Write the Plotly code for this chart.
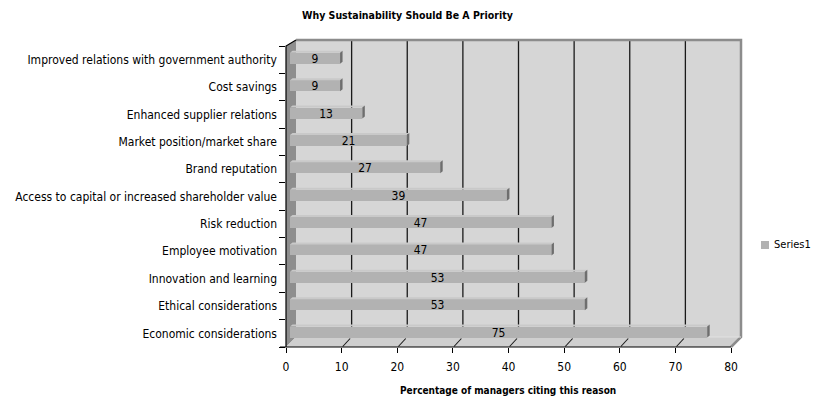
import plotly.graph_objects as go

# ---------------- data ----------------
categories = [
    "Economic considerations",
    "Ethical considerations",
    "Innovation and learning",
    "Employee motivation",
    "Risk reduction",
    "Access to capital or increased shareholder value",
    "Brand reputation",
    "Market position/market share",
    "Enhanced supplier relations",
    "Cost savings",
    "Improved relations with government authority",
]
values = [75, 53, 53, 47, 47, 39, 27, 21, 13, 9, 9]
x_ticks = [0, 10, 20, 30, 40, 50, 60, 70, 80]
series_name = "Series1"
title_text = "Why Sustainability Should Be A Priority"
x_title = "Percentage of managers citing this reason"

# ---------------- geometry (pixels) ----------------
W, H = 814, 400
PL, PR, PT, PB = 286, 744, 38, 347        # plot area
SX = 5.5625                               # px per x unit (front plane)
NCAT = len(categories)
FRONT_TOP = 46                            # top category boundary (front)
SY = (PB - FRONT_TOP) / NCAT              # px per category
DEPTH = 10                                # 3D depth in px
BACK_TOP = 40
XMAX = 80

FONT = "DejaVu Sans Condensed, Liberation Sans Narrow, sans-serif"

def ppx(p):
    return (p - PL) / (PR - PL)

def ppy(p):
    return (PB - p) / (PB - PT)

x_range = [0, (PR - PL) / SX]
y_range = [-0.5, -0.5 + (PB - PT) / SY]

# bar placement (front face shifted into depth)
BAR_SHIFT = 4            # px into the depth
BAR_H = 11               # px
BAR_BOTTOM_GAP = 9.5     # px above category lower boundary
bar_offset = -0.5 + BAR_BOTTOM_GAP / SY
bar_width = BAR_H / SY
EX, EY = 2.5 / SX, 2.0 / SY   # bar own depth in data units
x2_range = [x_range[0] - BAR_SHIFT / SX, x_range[1] - BAR_SHIFT / SX]

WALL = "#d6d6d6"
FLOOR = "#cfcfcf"
SIDE = "#8e8e8e"
EDGE = "#8c8c8c"
BAR = "#b2b2b2"
BAR_TOP = "#c9c9c9"
BAR_END = "#6e6e6e"

fig = go.Figure()

fig.add_trace(go.Bar(
    x=values, y=categories, orientation="h",
    xaxis="x2", yaxis="y",
    marker=dict(color=BAR, line=dict(width=0)),
    width=bar_width, offset=bar_offset,
    text=[str(v) for v in values],
    textposition="inside", insidetextanchor="middle",
    constraintext="none", textangle=0,
    insidetextfont=dict(family=FONT, size=12, color="#000000"),
    name=series_name, showlegend=False, hoverinfo="skip",
))

shapes = []
# back wall
shapes.append(dict(type="path", xref="paper", yref="paper", layer="below",
                   path=f"M{ppx(PL+DEPTH)},{ppy(BACK_TOP)} L{ppx(PL+XMAX*SX+DEPTH)},{ppy(BACK_TOP)} "
                        f"L{ppx(PL+XMAX*SX+DEPTH)},{ppy(PB-DEPTH)} L{ppx(PL+DEPTH)},{ppy(PB-DEPTH)} Z",
                   fillcolor=WALL, line=dict(width=0)))
# left side wall
shapes.append(dict(type="path", xref="paper", yref="paper", layer="below",
                   path=f"M{ppx(PL)},{ppy(FRONT_TOP)} L{ppx(PL+DEPTH)},{ppy(BACK_TOP)} "
                        f"L{ppx(PL+DEPTH)},{ppy(PB-DEPTH)} L{ppx(PL)},{ppy(PB)} Z",
                   fillcolor=SIDE, line=dict(width=0)))
# floor
shapes.append(dict(type="path", xref="paper", yref="paper", layer="below",
                   path=f"M{ppx(PL)},{ppy(PB)} L{ppx(PL+XMAX*SX)},{ppy(PB)} "
                        f"L{ppx(PL+XMAX*SX+DEPTH)},{ppy(PB-DEPTH)} L{ppx(PL+DEPTH)},{ppy(PB-DEPTH)} Z",
                   fillcolor=FLOOR, line=dict(width=0)))
# gridlines on back wall and floor
for v in x_ticks[1:-1]:
    shapes.append(dict(type="line", xref="x", yref="paper", layer="below",
                       x0=v + DEPTH / SX, x1=v + DEPTH / SX,
                       y0=ppy(PB - DEPTH), y1=ppy(BACK_TOP),
                       line=dict(color="#1a1a1a", width=1.3)))
    shapes.append(dict(type="line", xref="x", yref="paper", layer="below",
                       x0=v + 0.2, x1=v + (DEPTH - 1.5) / SX,
                       y0=ppy(PB - 0.5), y1=ppy(PB - DEPTH + 1.5),
                       line=dict(color="#1a1a1a", width=1.1)))
# wall borders (top, right, floor right edge)
shapes.append(dict(type="path", xref="paper", yref="paper", layer="below",
                   path=f"M{ppx(PL+DEPTH)},{ppy(BACK_TOP)} L{ppx(PL+XMAX*SX+DEPTH)},{ppy(BACK_TOP)} "
                        f"L{ppx(PL+XMAX*SX+DEPTH)},{ppy(PB-DEPTH)} L{ppx(PL+XMAX*SX)},{ppy(PB)}",
                   line=dict(color=EDGE, width=2.5)))
shapes.append(dict(type="line", xref="paper", yref="paper", layer="below",
                   x0=ppx(PL+DEPTH), x1=ppx(PL+XMAX*SX+DEPTH), y0=ppy(PB-DEPTH), y1=ppy(PB-DEPTH),
                   line=dict(color="#e2e2e2", width=1)))
# axis lines
shapes.append(dict(type="path", xref="paper", yref="paper", layer="above",
                   path=f"M{ppx(PL)},{ppy(PB)} L{ppx(PL)},{ppy(FRONT_TOP)} L{ppx(PL+DEPTH)},{ppy(BACK_TOP)}",
                   line=dict(color="#000000", width=1.2)))
shapes.append(dict(type="line", xref="paper", yref="paper", layer="above",
                   x0=ppx(PL - 6), x1=ppx(PL + XMAX * SX), y0=0, y1=0,
                   line=dict(color="#000000", width=1.2)))

# 3D faces of bars
for i, v in enumerate(values):
    yb = i + bar_offset
    yt = yb + bar_width
    shapes.append(dict(type="path", xref="x2", yref="y", layer="above",
                       path=f"M0,{yt} L{v},{yt} L{v+EX},{yt+EY} L{EX},{yt+EY} Z",
                       fillcolor=BAR_TOP, line=dict(width=0)))
    shapes.append(dict(type="path", xref="x2", yref="y", layer="above",
                       path=f"M{v},{yb} L{v},{yt} L{v+EX},{yt+EY} L{v+EX},{yb+EY} Z",
                       fillcolor=BAR_END, line=dict(width=0)))

# legend (manual)
shapes.append(dict(type="rect", xref="paper", yref="paper",
                   x0=ppx(761), x1=ppx(769), y0=ppy(249), y1=ppy(241),
                   fillcolor=BAR, line=dict(width=0)))

annotations = [
    dict(text=series_name, xref="paper", yref="paper", x=ppx(813), y=ppy(245),
         xanchor="right", yanchor="middle", showarrow=False,
         font=dict(family=FONT, size=11, color="#000000")),
    dict(text=f"<b>{x_title}</b>", xref="paper", yref="paper",
         x=ppx(508), y=ppy(390), xanchor="center", yanchor="middle", showarrow=False,
         font=dict(family=FONT, size=10, color="#000000")),
    dict(text=f"<b>{title_text}</b>", xref="paper", yref="paper",
         x=ppx(407), y=ppy(15), xanchor="center", yanchor="middle", showarrow=False,
         font=dict(family=FONT, size=10.5, color="#000000")),
]

fig.update_layout(
    width=W, height=H,
    margin=dict(l=PL, r=W - PR, t=PT, b=H - PB, pad=0, autoexpand=False),
    paper_bgcolor="#ffffff", plot_bgcolor="rgba(0,0,0,0)",
    showlegend=False,
    shapes=shapes, annotations=annotations,
    xaxis=dict(range=x_range, tickvals=x_ticks, ticktext=[str(t) for t in x_ticks],
               ticks="outside", ticklen=5, tickcolor="#000000", tickwidth=1,
               showgrid=False, zeroline=False, showline=False, automargin=False,
               tickfont=dict(family=FONT, size=12, color="#000000"),
               ticklabelstandoff=4, fixedrange=True),
    xaxis2=dict(range=x2_range, overlaying="x", visible=False, fixedrange=True,
                automargin=False),
    yaxis=dict(type="category", categoryorder="array", categoryarray=categories,
               range=y_range, tickson="boundaries",
               ticks="outside", ticklen=6, tickcolor="#000000", tickwidth=1,
               showgrid=False, zeroline=False, showline=False, automargin=False,
               tickfont=dict(family=FONT, size=12, color="#000000"),
               ticklabelstandoff=8, fixedrange=True),
    bargap=0,
)

fig.write_html("out.html")
